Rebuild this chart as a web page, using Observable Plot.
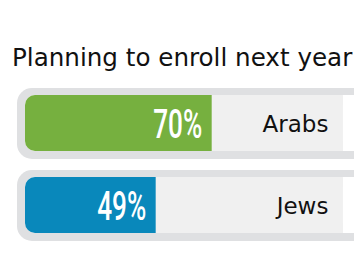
<!DOCTYPE html>
<html>
<head>
<meta charset="utf-8">
<script src="https://cdn.jsdelivr.net/npm/d3@7"></script>
<script src="https://cdn.jsdelivr.net/npm/@observablehq/plot@0.6"></script>
<style>
  html, body { margin: 0; padding: 0; background: #fff; width: 354px; height: 258px; overflow: hidden; }
  #title { font-family: "DejaVu Sans", sans-serif; font-size: 24.6px; line-height: 28px; color: #111;
           padding: 44px 0 0 12px; height: 36px; white-space: nowrap; }
</style>
</head>
<body>
<div id="title">Planning to enroll next year</div>
<div id="chart"></div>
<script>
const categories = ["Arabs", "Jews"];
const values = [70, 49];
const valueLabels = ["70%", "49%"];
const colors = ["#76b03f", "#0988bb"];

const trackMax = 119.2;
const rows = categories.map((c, i) => ({cat: c, value: values[i], label: valueLabels[i], color: colors[i], track: trackMax}));

const chart = Plot.plot({
  width: 354,
  height: 178,
  margin: 0,
  x: {domain: [0, 100], range: [25, 291.7], axis: null},
  y: {type: "band", domain: categories, range: [14, 154], paddingInner: 0.313, paddingOuter: 0, axis: null},
  marks: [
    Plot.rect(rows, {x1: 0, x2: "track", y: "cat", fill: "#dfe0e2", rx: 15,
      insetLeft: -8, insetRight: -40, insetTop: -7, insetBottom: -8}),
    Plot.rect(rows, {x1: 0, x2: "track", y: "cat", fill: "#ffffff", rx: 10, insetRight: -30}),
    Plot.rect(rows, {x1: 0, x2: "track", y: "cat", fill: "#f0f0f0", rx1: 10}),
    Plot.rect(rows, {x1: 0, x2: "value", y: "cat", fill: "color", rx1: 10}),
    Plot.text(rows, {x: "value", y: "cat", text: "label", textAnchor: "end", dx: -10, dy: 2,
      fill: "#ffffff", fontSize: 40, fontWeight: 500, fontFamily: "Roboto"}),
    Plot.text(rows, {x: "track", y: "cat", text: "cat", textAnchor: "end", dx: -15, dy: 1,
      fill: "#111111", fontSize: 23, fontFamily: "DejaVu Sans"})
  ]
});
d3.select(chart).selectAll("text")
  .filter(function() { return /%$/.test(this.textContent); })
  .attr("textLength", 49).attr("lengthAdjust", "spacingAndGlyphs");
document.getElementById("chart").appendChild(chart);
</script>
</body>
</html>
